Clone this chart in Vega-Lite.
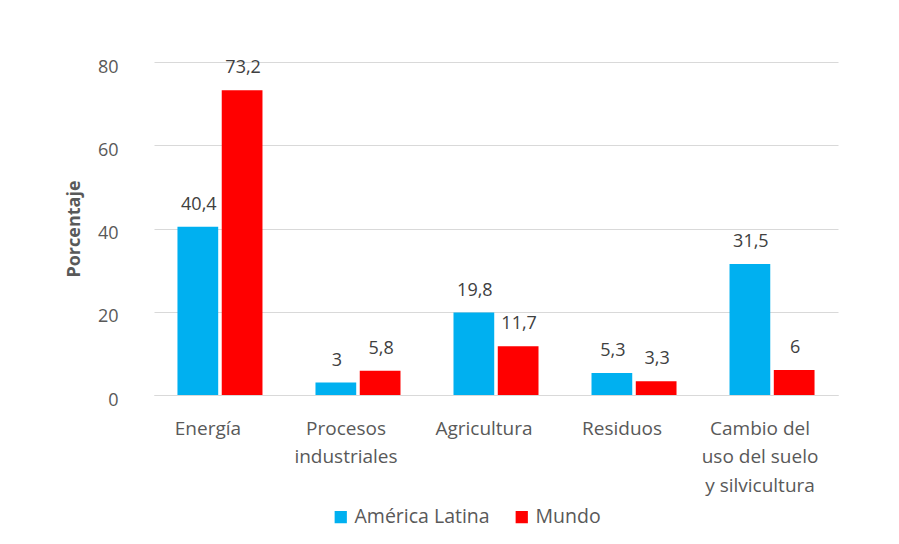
{
  "$schema": "https://vega.github.io/schema/vega-lite/v6.json",
  "autosize": "none",
  "width": 684,
  "height": 333,
  "padding": {"left": 154, "top": 62, "right": 61, "bottom": 149},
  "background": "white",
  "config": {
    "view": {"stroke": null},
    "font": "Open Sans",
    "locale": {"number": {"decimal": ",", "thousands": ".", "grouping": [3], "currency": ["", ""]}}
  },
  "data": {
    "values": [
      {"sector": "Energía", "serie": "América Latina", "valor": 40.4},
      {"sector": "Energía", "serie": "Mundo", "valor": 73.2},
      {"sector": "Procesos industriales", "serie": "América Latina", "valor": 3},
      {"sector": "Procesos industriales", "serie": "Mundo", "valor": 5.8},
      {"sector": "Agricultura", "serie": "América Latina", "valor": 19.8},
      {"sector": "Agricultura", "serie": "Mundo", "valor": 11.7},
      {"sector": "Residuos", "serie": "América Latina", "valor": 5.3},
      {"sector": "Residuos", "serie": "Mundo", "valor": 3.3},
      {"sector": "Cambio del uso del suelo y silvicultura", "serie": "América Latina", "valor": 31.5},
      {"sector": "Cambio del uso del suelo y silvicultura", "serie": "Mundo", "valor": 6}
    ]
  },
  "encoding": {
    "x": {
      "field": "sector", "type": "nominal", "sort": null,
      "scale": {"paddingInner": 0.384, "paddingOuter": 0.17},
      "axis": {
        "title": null, "labelAngle": 0, "ticks": false,
        "domainColor": "#d9d9d9", "labelPadding": 24, "labelOffset": -12,
        "labelFontSize": 19, "labelColor": "#595959", "labelLineHeight": 28.5,
        "labelBaseline": "top",
        "labelExpr": "datum.value == 'Procesos industriales' ? ['Procesos','industriales'] : datum.value == 'Cambio del uso del suelo y silvicultura' ? ['Cambio del','uso del suelo','y silvicultura'] : datum.value"
      }
    },
    "xOffset": {"field": "serie", "type": "nominal", "scale": {"paddingInner": 0.08}},
    "y": {
      "field": "valor", "type": "quantitative",
      "scale": {"domain": [0, 80]},
      "axis": {
        "title": "Porcentaje", "titleFontSize": 18, "titleColor": "#595959", "titleFontWeight": "bold",
        "titlePadding": 14,
        "values": [0, 20, 40, 60, 80],
        "domain": false, "ticks": false, "labelPadding": 36, "labelOffset": 5,
        "labelFontSize": 18, "labelColor": "#595959",
        "gridColor": "#d9d9d9", "gridWidth": 1
      }
    }
  },
  "layer": [
    {
      "mark": {"type": "bar"},
      "encoding": {
        "color": {
          "field": "serie", "type": "nominal",
          "scale": {"domain": ["América Latina", "Mundo"], "range": ["#00B0F0", "#FF0000"]},
          "legend": {
            "title": null, "orient": "none", "direction": "horizontal",
            "legendX": 177, "legendY": 445,
            "symbolType": "square", "symbolSize": 150, "symbolStrokeWidth": 0,
            "labelFontSize": 19.5, "labelColor": "#595959", "columnPadding": 22, "labelOffset": 4
          }
        }
      }
    },
    {
      "mark": {"type": "text", "baseline": "bottom", "dy": -13, "dx": 1, "fontSize": 18, "color": "#404040"},
      "encoding": {
        "text": {"field": "valor", "type": "quantitative", "format": "~g"}
      }
    }
  ]
}
